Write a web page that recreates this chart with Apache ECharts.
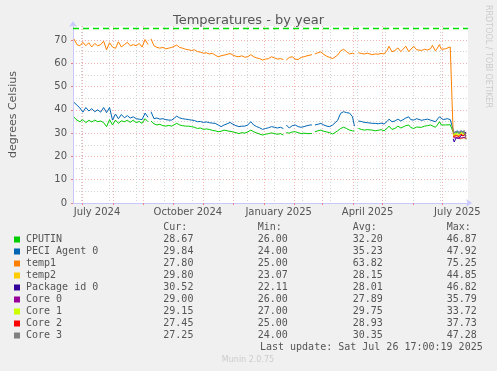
<!DOCTYPE html>
<html><head><meta charset="utf-8">
<script src="https://cdn.jsdelivr.net/npm/echarts@6/dist/echarts.min.js"></script>
<style>html,body{margin:0;padding:0;background:#f0f0f0;}#c{width:497px;height:371px;}</style>
</head><body><div id="c"></div>
<script>
// ---------- time range ----------
const endTime = Date.UTC(2025, 6, 26, 17, 0, 19);
const rangeDays = 400;
const startTime = endTime - rangeDays * 86400000;

// ---------- tick / label values ----------
const monthStarts = ['2024-07-01','2024-08-01','2024-09-01','2024-10-01','2024-11-01','2024-12-01','2025-01-01','2025-02-01','2025-03-01','2025-04-01','2025-05-01','2025-06-01','2025-07-01'];
const minorDates = ['2024-06-30','2024-07-28','2024-08-25','2024-09-22','2024-10-20','2024-11-17','2024-12-15','2025-01-12','2025-02-09','2025-03-09','2025-04-06','2025-05-04','2025-06-01','2025-06-29'];
const labelDates = ['2024-07-16','2024-10-16','2025-01-16','2025-04-16','2025-07-16'];
const labelTexts = ['July 2024','October 2024','January 2025','April 2025','July 2025'];
const yMajorTicks = [0,10,20,30,40,50,60,70];
const yMinorTicks = [5,15,25,35,45,55,65];
const yMax = 76;
const limitLine = 75;

// ---------- data: day offsets from start ----------
const mainDays = [1,4,7,10,13,16,19,22,25,28,31,34,37,40,43,46,49,52,55,58,61,64,67,70,73,76,77,79,82,85,88,91,94,97,100,102,105,108,111,114,117,120,123,126,129,132,135,138,141,144,147,150,153,156,159,162,165,168,171,174,177,180,183,186,189,192,195,198,201,204,207,210,213,214,216,219,222,225,228,231,234,237,240,242,243,245,248,251,254,257,260,263,265,268,271,274,277,280,283,285,287,289,292,295,298,300,303,306,309,312,315,318,320,323,326,329,332,334,337,340,342,345,348,350,353,356,359,362,364,367,369,371,373,375,377,379,382,384];
const endDays = [385,386,387,388,389,390,391,392,393,394,395,396,397,398];

const temp1Main = [70.4,68,67.5,69,67.5,68.8,67,68.5,67.5,68,69.5,65.8,68.8,67,66.4,69.2,67,68,69,67.5,68,67.5,68.5,67,70.2,68,null,70.5,67.5,66.8,66.5,66.8,66.2,66.5,66.8,67,67.8,66.8,66.5,66,65.8,65.5,65.8,65,64.8,64.3,64.5,64,64.3,63.5,62.8,63.2,63.5,63.8,64.2,63.5,63,62.8,63.2,62.6,62.8,63.7,62.8,62.3,62,61.4,61.8,62,62.8,62.3,61.8,62,61.6,null,61.4,62.5,62.8,61.8,61.6,62.5,62.8,63.2,63.5,63.7,null,64,64.5,64.9,63.8,63,62.5,62,61.6,63.5,65.3,66,65,64,64.3,64,null,64.5,64.2,64,64.3,63.8,63.7,64,63.9,64.2,64,65.5,67.3,64.9,65.5,66.6,65,65.3,67.3,65,64.5,67.3,65.8,65.3,65.5,66,65.7,66.2,67.7,65.3,66.5,68,66,65.3,66.2,66.6,67,66.5];
const peciMain = [43.2,42,40.8,39,41,39.5,40.5,39.2,40,39,41,38.8,41,35.6,38.2,36.2,38,36.6,37.5,36.5,37,36.2,36,35.8,38.6,36.8,null,39.2,36.2,36.5,36,36.2,35.8,35.6,35.6,36,37.3,36.5,36.2,36,35.8,35.6,35.4,34.9,35,34.6,34.8,34.5,34.3,34.2,33.5,32.8,33.5,34,34.6,33.8,33.2,32.8,33,33,33.5,34.9,33.5,32.8,32.3,31.6,32,32.3,32.8,32.5,32.2,32.5,32,null,33.5,32.2,33.2,33.5,32.8,32.5,32.8,33.2,33.5,33.5,null,33.5,33.8,34.2,33.5,33,32.8,33.5,34.2,35.5,38.5,39.2,38.8,38.6,37.1,33,null,35.2,35,34.6,34.5,34.3,34.2,34.2,34,34.3,33.9,35,36,34.9,35.2,36,35.2,35.6,36.5,37,35.8,35.6,36.2,35.8,35.5,35.8,36,35.6,35.2,34.9,35.5,37,36.2,35.8,36,36.2,35.8,35.6];
const cputinMain = [36.8,35.6,34.9,35.8,34.5,35.5,34.8,35.6,34.9,35.2,34.5,32.8,35.8,33.5,35.6,34.2,35.3,34.9,35.5,34.6,35.6,34.5,35,34.2,36.2,34.9,null,35.2,34,33.5,33.8,33.2,33,33.3,33,33.5,34.2,33.5,33.2,33,33,32.8,32.5,32,32.2,31.6,31.8,31.6,31.2,31,30.6,30.8,31.3,31,30.8,30.5,30.2,29.8,30.2,30,30.5,31.3,30.6,30.1,29.6,29.2,29.5,29.8,30.1,29.8,29.5,29.8,29.2,null,30.2,30,30.5,30.6,30.2,29.8,30,29.8,29.8,29.9,null,30.6,31,31.3,30.8,30.5,30.2,29.6,29.2,31,32,32.5,32,31.3,31,30.9,null,32,31.6,31.3,31.5,31.2,31.3,31,31.2,31.5,31,32,33,31.6,32,33,32.2,32,33.2,33.5,32.4,32,32.6,32.8,32.5,33,33.2,33.5,33,32.5,33.5,34.9,33.5,33,33.5,34.2,33.6,32.8];

const temp1End   = [29.5,28.5,28,27.8,28.2,28.5,28,27.5,28,28.3,28,27.8,28.2,27.8];
const cputinEnd  = [30.5,29,28.5,29.5,30.5,31,30,29.5,30.5,31.2,30.5,29.8,30.5,28.67];
const peciEnd    = [31.5,30,29.5,30.5,31,31.5,30.8,30,31,31.5,30.8,30.2,30.8,29.84];
const temp2End   = [29,28.5,28.8,29.5,30,29.2,28.8,29.5,30.2,29.5,29,29.8,30.2,29.8];
const packageEnd = [27.5,26.2,26.8,28,28.5,28,27.8,28.5,29,28.5,28.2,29,29.5,30.52];
const core0End   = [28,27.5,27.8,28,28.2,28,27.8,28,28.3,28,27.9,28,28.2,29];
const core1End   = [29.5,29,29.3,29.8,30.2,29.5,29.2,29.8,30.3,29.8,29.5,30,30.3,29.15];
const core2End   = [28.5,28,28.3,29,29.5,28.8,28.5,29.2,29.6,29,28.7,29.3,29.6,27.45];
const core3End   = [30,29.2,29.8,30.8,31.5,30.5,30,31,31.8,30.8,30.2,31.2,31.3,27.25];

// ---------- legend table ----------
const seriesNames = ['CPUTIN','PECI Agent 0','temp1','temp2','Package id 0','Core 0','Core 1','Core 2','Core 3'];
const seriesColors = ['#00cc00','#0066b3','#ff8000','#ffcc00','#330099','#990099','#ccff00','#ff0000','#808080'];
const curVals = ['28.67','29.84','27.80','29.80','30.52','29.00','29.15','27.45','27.25'];
const minVals = ['26.00','24.00','25.00','23.07','22.11','26.00','27.00','25.00','24.00'];
const avgVals = ['32.20','35.23','63.82','28.15','28.01','27.89','29.75','28.93','30.35'];
const maxVals = ['46.87','47.92','75.25','44.85','46.82','35.79','33.72','37.73','47.28'];
const lastUpdate = 'Last update: Sat Jul 26 17:00:19 2025';

// ---------- build ----------
const D = 86400000;
const ts = s => Date.UTC(+s.slice(0,4), +s.slice(5,7)-1, +s.slice(8,10));
const toPairs = (days, vals) => days.map((d, i) => [startTime + d * D, vals[i]]);
const seriesData = [
  toPairs(mainDays, cputinMain).concat(toPairs(endDays, cputinEnd)),
  toPairs(mainDays, peciMain).concat(toPairs(endDays, peciEnd)),
  toPairs(mainDays, temp1Main).concat(toPairs(endDays, temp1End)),
  toPairs(endDays, temp2End),
  toPairs(endDays, packageEnd),
  toPairs(endDays, core0End),
  toPairs(endDays, core1End),
  toPairs(endDays, core2End),
  toPairs(endDays, core3End)
];
const labelMap = {};
labelDates.forEach((d, i) => { labelMap[ts(d)] = labelTexts[i]; });

const mono = "'DejaVu Sans Mono', monospace";
const sans = "'DejaVu Sans', sans-serif";
const textCol = '#555555';
const axisCol = '#c8c8ff';

const graphics = [];
const colX = [163.3, 257.7, 352.7, 446.7];
['Cur:','Min:','Avg:','Max:'].forEach((h, j) => {
  graphics.push({type:'text', x: colX[j], y: 227.7, style:{text:h, font:'10px '+mono, fill:textCol, verticalAlign:'middle'}});
});
seriesNames.forEach((n, i) => {
  const y = 239.5 + 12 * i;
  graphics.push({type:'rect', shape:{x:14, y:y-3, width:6, height:6}, style:{fill:seriesColors[i]}});
  graphics.push({type:'text', x:26, y:y, style:{text:n, font:'10px '+mono, fill:textCol, verticalAlign:'middle'}});
  [curVals, minVals, avgVals, maxVals].forEach((arr, j) => {
    graphics.push({type:'text', x: colX[j], y:y, style:{text:arr[i], font:'10px '+mono, fill:textCol, verticalAlign:'middle'}});
  });
});
graphics.push({type:'text', x:482.7, y:347.7, style:{text:lastUpdate, font:'10px '+mono, fill:textCol, align:'right', verticalAlign:'middle'}});
graphics.push({type:'text', x:248, y:360, style:{text:'Munin 2.0.75', font:'8px '+sans, fill:'#cccccc', align:'center', verticalAlign:'middle'}});
graphics.push({type:'text', x:488.5, y:5, rotation:-Math.PI/2, style:{text:'RRDTOOL / TOBI OETIKER', font:'8px '+sans, fill:'#cccccc', align:'left', verticalAlign:'middle'}});

const chart = echarts.init(document.getElementById('c'), null, {renderer:'canvas'});
const gridLine = (c) => ({show:true, lineStyle:{color:c, width:1, type:[1,2]}});
chart.setOption({
  animation: false,
  backgroundColor: '#f0f0f0',
  title: {text:'Temperatures - by year', left:'center', top:9, textStyle:{fontFamily:sans, fontSize:13, fontWeight:'normal', color:textCol}},
  grid: {left:66, right:29, top:26, bottom:168, show:true, backgroundColor:'#ffffff', borderWidth:0},
  xAxis: [
    {type:'value', min:startTime, max:endTime, gridIndex:0, scale:true,
     axisLine:{show:true, onZero:false, lineStyle:{color:axisCol, width:1}, symbol:['none','arrow'], symbolSize:[6,6], symbolOffset:[0,4]},
     axisTick:{show:true, length:2, lineStyle:{color:'#f08080'}, customValues: monthStarts.map(ts)},
     splitLine: gridLine('#f0b4b4'),
     axisLabel:{customValues: labelDates.map(ts), formatter: v => labelMap[v] || '', color:textCol, fontFamily:sans, fontSize:10, margin:4, hideOverlap:false}},
    {type:'value', min:startTime, max:endTime, gridIndex:0, position:'bottom', scale:true,
     axisLine:{show:false}, axisLabel:{show:false},
     axisTick:{show:false, customValues: minorDates.map(ts)},
     splitLine: gridLine('#d4d4d4')}
  ],
  yAxis: [
    {type:'value', min:0, max:yMax, gridIndex:0,
     name:'degrees Celsius', nameLocation:'middle', nameGap:54, nameRotate:90,
     nameTextStyle:{fontFamily:sans, fontSize:11, color:textCol},
     axisLine:{show:true, lineStyle:{color:axisCol, width:1}, symbol:['none','arrow'], symbolSize:[6,6], symbolOffset:[0,5]},
     axisTick:{show:true, length:2, lineStyle:{color:'#f08080'}, customValues:yMajorTicks},
     splitLine: gridLine('#f0b4b4'),
     axisLabel:{customValues:yMajorTicks, color:textCol, fontFamily:sans, fontSize:10, margin:6}},
    {type:'value', min:0, max:yMax, gridIndex:0, position:'left',
     axisLine:{show:false}, axisLabel:{show:false},
     axisTick:{show:false, customValues:yMinorTicks},
     splitLine: gridLine('#d4d4d4')}
  ],
  series: seriesNames.map((n, i) => ({
    name:n, type:'line', xAxisIndex:0, yAxisIndex:0, data:seriesData[i],
    showSymbol:false, symbol:'none', connectNulls:false,
    lineStyle:{color:seriesColors[i], width:1}, itemStyle:{color:seriesColors[i]},
    markLine: i === 0 ? {silent:true, symbol:'none', label:{show:false},
      lineStyle:{color:'#00dd00', width:1.3, type:[6,4]}, data:[{yAxis:limitLine}]} : undefined
  })),
  graphic: graphics
});
</script></body></html>
